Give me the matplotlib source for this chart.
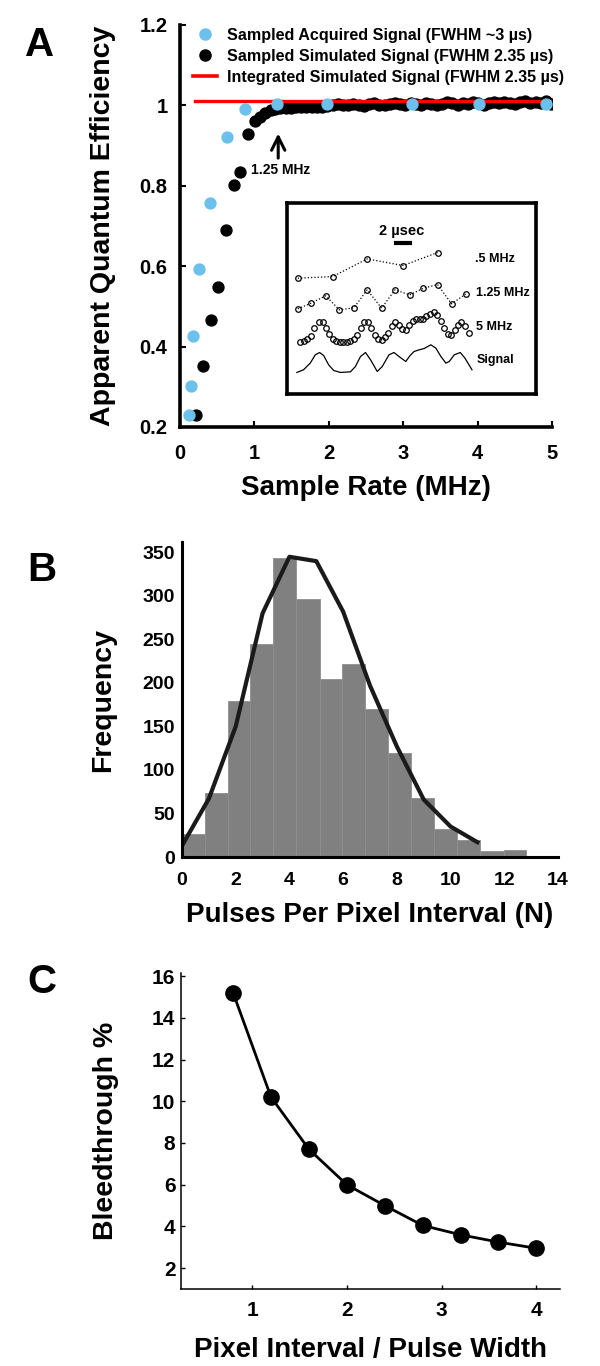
import matplotlib
matplotlib.use("Agg")
import matplotlib.pyplot as plt
from matplotlib.lines import Line2D

plt.rcParams['font.family'] = ['Liberation Sans', 'DejaVu Sans']
plt.rcParams['font.weight'] = 'bold'
plt.rcParams['axes.labelweight'] = 'bold'

# ---- panel A data ----
acq_x = [0.12, 0.15, 0.17, 0.26, 0.40, 0.63, 0.87, 1.30, 1.98, 3.12, 4.02, 4.92]
acq_y = [0.229, 0.301, 0.426, 0.592, 0.756, 0.922, 0.990, 1.003, 1.003, 1.003, 1.003, 1.003]

sim_x = [0.21, 0.31, 0.41, 0.51, 0.62, 0.72, 0.80, 0.91, 1.01, 1.07, 1.14, 1.22,
         1.28, 1.35, 1.42, 1.49, 1.56, 1.63, 1.70, 1.77, 1.84, 1.91, 1.98,
         2.05, 2.12, 2.19, 2.26, 2.33, 2.40, 2.47, 2.54, 2.61, 2.68, 2.75,
         2.82, 2.89, 2.96, 3.03, 3.10, 3.17, 3.24, 3.31, 3.38, 3.45, 3.52,
         3.59, 3.66, 3.73, 3.80, 3.87, 3.94, 4.01, 4.08, 4.15, 4.22, 4.29,
         4.36, 4.43, 4.50, 4.57, 4.64, 4.71, 4.78, 4.85, 4.92, 4.98]
sim_y = [0.231, 0.351, 0.467, 0.549, 0.691, 0.803, 0.835, 0.930, 0.962, 0.970, 0.980, 0.988,
         0.992, 0.993, 0.994, 0.994, 0.995, 0.995, 0.996, 0.996, 0.997, 0.997, 0.998,
         1.001, 1.003, 1.002, 1.000, 1.004, 1.002, 0.999, 1.003, 1.005, 1.002, 1.000,
         1.004, 1.006, 1.003, 1.001, 1.005, 1.004, 1.002, 1.006, 1.003, 1.000, 1.004,
         1.008, 1.005, 1.002, 1.007, 1.004, 1.008, 1.005, 1.002, 1.007, 1.009, 1.005,
         1.008, 1.006, 1.003, 1.008, 1.010, 1.006, 1.009, 1.007, 1.011, 1.004]

integ_x = [0.2, 5.0]
integ_y = [1.01, 1.01]

# inset: schematic traces (time in us, arbitrary vertical units)
sig_t = [0.00, 0.95, 1.90, 2.62, 3.24, 3.81, 4.52, 5.24, 6.19, 7.62, 8.33, 9.05, 9.76,
         10.48, 11.43, 12.14, 13.10, 13.81, 14.52, 15.48, 16.10, 16.67, 17.38, 18.10,
         19.05, 19.76, 20.48, 21.19, 21.67, 22.38, 23.24, 23.90, 24.90]
sig_v = [2.48, 2.86, 3.81, 5.00, 5.33, 4.90, 3.57, 2.76, 2.48, 2.57, 3.33, 4.76, 5.33,
         4.29, 2.62, 3.33, 5.00, 5.33, 4.76, 4.05, 4.90, 5.48, 5.71, 5.90,
         6.43, 5.95, 4.76, 3.81, 4.05, 5.00, 5.33, 4.52, 2.86]

s5_t = [0.48, 0.95, 1.43, 2.00, 2.48, 3.10, 3.67, 4.14, 4.62, 5.10, 5.62, 6.10, 6.62,
        7.10, 7.62, 8.10, 8.57, 9.05, 9.57, 10.05, 10.52, 11.10, 11.52, 12.05, 12.52,
        13.00, 13.48, 14.00, 14.48, 15.00, 15.48, 16.00, 16.48, 16.95, 17.48, 17.95,
        18.43, 18.95, 19.43, 19.90, 20.48, 20.95, 21.43, 21.90, 22.43, 22.90, 23.38,
        23.90, 24.48]
s5_v = [6.90, 7.00, 7.29, 7.76, 8.90, 9.67, 9.67, 8.90, 7.95, 7.29, 7.00, 6.90, 6.90,
        6.90, 7.00, 7.33, 7.86, 8.90, 9.67, 9.67, 8.90, 7.90, 7.29, 7.14, 7.52,
        8.19, 9.05, 9.67, 9.29, 8.67, 8.57, 9.29, 9.90, 10.10, 10.14, 10.10,
        10.48, 10.86, 11.05, 10.71, 9.86, 8.81, 7.95, 7.86, 8.57, 9.29, 9.76,
        9.05, 8.10]

s125_t = [0.14, 2.00, 4.10, 6.05, 8.10, 10.00, 12.05, 13.95, 16.05, 18.00, 20.00, 22.00, 24.00]
s125_v = [11.57, 12.38, 13.43, 11.43, 11.71, 14.29, 11.67, 14.29, 13.57, 14.52, 15.05, 12.29, 13.67]

s05_t = [0.14, 5.10, 10.00, 15.10, 20.00]
s05_v = [15.95, 16.19, 18.71, 17.76, 19.62]

# ---- panel B data ----
bin_edges = [0, 0.84, 1.70, 2.55, 3.40, 4.26, 5.13, 5.97, 6.82, 7.68, 8.54,
             9.39, 10.25, 11.11, 11.98, 12.81, 14.0]
counts = [27, 73, 179, 245, 344, 297, 205, 222, 170, 119, 68, 32, 20, 7, 8.5, 1.5]
fit_x = [0, 1, 2, 3, 4, 5, 6, 7, 8, 9, 10, 11]
fit_y = [13, 67, 150, 280, 345, 340, 282, 197, 127, 66, 35, 17]

# ---- panel C data ----
ratio = [0.8, 1.2, 1.6, 2.0, 2.4, 2.8, 3.2, 3.6, 4.0]
bleed = [15.2, 10.2, 7.7, 6.0, 5.0, 4.05, 3.6, 3.25, 2.95]

W, H = 600, 1366
fig = plt.figure(figsize=(6, 13.66), dpi=100)


def box(l, r, t, b):
    return [l / W, 1 - b / H, (r - l) / W, (b - t) / H]


blue = '#6cc0ec'

# ---------------- A ----------------
ax = fig.add_axes(box(180, 552, 25, 427))
ax.scatter(sim_x, sim_y, s=62, color='black', zorder=2)
ax.plot(integ_x, integ_y, color='red', lw=2.4, zorder=3)
ax.scatter(acq_x, acq_y, s=62, color=blue, zorder=4)
ax.set_xlim(0, 5)
ax.set_ylim(0.2, 1.2)
ax.set_xticks([0, 1, 2, 3, 4, 5])
ax.set_yticks([0.2, 0.4, 0.6, 0.8, 1.0, 1.2])
ax.set_yticklabels(['0.2', '0.4', '0.6', '0.8', '1', '1.2'])
for s in ['top', 'right']:
    ax.spines[s].set_visible(False)
for s in ['left', 'bottom']:
    ax.spines[s].set_linewidth(2.6)
ax.tick_params(direction='in', length=4, width=1.5, labelsize=14.5)
ax.tick_params(axis='x', pad=12)
ax.tick_params(axis='y', pad=9)
ax.set_xlabel('Sample Rate (MHz)', fontsize=20, labelpad=9)
ax.set_ylabel('Apparent Quantum Efficiency', fontsize=20.5, labelpad=17)
ax.annotate('', xy=(1.32, 0.937), xytext=(1.32, 0.862),
            arrowprops=dict(arrowstyle='->', lw=2.2, color='black', mutation_scale=24))
ax.text(0.95, 0.839, '1.25 MHz', fontsize=10, va='center', ha='left')

handles = [Line2D([], [], marker='o', ls='none', color=blue, ms=8),
           Line2D([], [], marker='o', ls='none', color='black', ms=8),
           Line2D([], [], color='red', lw=2.6)]
labels = ['Sampled Acquired Signal (FWHM ~3 µs)',
          'Sampled Simulated Signal (FWHM 2.35 µs)',
          'Integrated Simulated Signal (FWHM 2.35 µs)']
fig.legend(handles, labels, loc='upper left', bbox_to_anchor=(193 / W, 1 - 28 / H),
           frameon=False, fontsize=11.6, handlelength=1.5, handletextpad=0.6,
           labelspacing=0.36, borderpad=0, borderaxespad=0)

# inset
axi = fig.add_axes(box(287, 536, 203, 394))
axi.plot(sig_t, sig_v, color='black', lw=0.9)
axi.plot(s5_t, s5_v, ls='none', marker='o', mfc='none', mec='black', ms=4, mew=0.9)
axi.plot(s125_t, s125_v, ls=':', color='black', lw=0.9, marker='o', mfc='none', mec='black', ms=4, mew=0.9)
axi.plot(s05_t, s05_v, ls=':', color='black', lw=0.9, marker='o', mfc='none', mec='black', ms=4, mew=0.9)
axi.plot([14.05, 16.05], [21.05, 21.05], color='black', lw=3)
axi.text(14.9, 22.7, '2 µsec', fontsize=10.5, ha='center', va='center')
axi.text(25.3, 18.7, '.5 MHz', fontsize=9, va='center')
axi.text(25.5, 13.8, '1.25 MHz', fontsize=9, va='center')
axi.text(25.5, 8.95, '5 MHz', fontsize=9, va='center')
axi.text(25.5, 4.2, 'Signal', fontsize=9, va='center')
axi.set_xlim(-1.4, 34.0)
axi.set_ylim(-0.6, 26.7)
axi.set_xticks([])
axi.set_yticks([])
for s in axi.spines.values():
    s.set_linewidth(2.6)

# ---------------- B ----------------
bx = fig.add_axes(box(182, 558, 542, 857))
lefts = bin_edges[:-1]
widths = [bin_edges[i + 1] - bin_edges[i] for i in range(len(counts))]
bx.bar(lefts, counts, width=widths, align='edge', color='#808080', edgecolor='#8e8e8e', lw=0.6)
bx.plot(fit_x, fit_y, color='#1a1a1a', lw=3)
bx.set_xlim(0, 14)
bx.set_ylim(0, 362)
bx.set_xticks([0, 2, 4, 6, 8, 10, 12, 14])
bx.set_yticks([0, 50, 100, 150, 200, 250, 300, 350])
for s in ['top', 'right']:
    bx.spines[s].set_visible(False)
for s in ['left', 'bottom']:
    bx.spines[s].set_linewidth(2.2)
bx.tick_params(direction='in', length=0, labelsize=14)
bx.tick_params(axis='x', pad=11)
bx.tick_params(axis='y', pad=5)
bx.set_xlabel('Pulses Per Pixel Interval (N)', fontsize=20, labelpad=9)
bx.set_ylabel('Frequency', fontsize=20.5, labelpad=19)

# ---------------- C ----------------
cx = fig.add_axes(box(181, 560, 973, 1289))
cx.plot(ratio, bleed, color='black', lw=2, marker='o', ms=11)
cx.set_xlim(0.25, 4.25)
cx.set_ylim(1, 16.15)
cx.set_xticks([1, 2, 3, 4])
cx.set_yticks([2, 4, 6, 8, 10, 12, 14, 16])
for s in ['top', 'right']:
    cx.spines[s].set_visible(False)
for s in ['left', 'bottom']:
    cx.spines[s].set_linewidth(1.1)
cx.tick_params(direction='in', length=3, width=1, labelsize=15)
cx.tick_params(axis='x', pad=9)
cx.tick_params(axis='y', pad=4)
cx.set_xlabel('Pixel Interval / Pulse Width', fontsize=20, labelpad=12)
cx.set_ylabel('Bleedthrough %', fontsize=20.5, labelpad=24)

# panel letters
fig.text(25 / W, 1 - 45 / H, 'A', fontsize=29, va='center')
fig.text(27 / W, 1 - 570 / H, 'B', fontsize=29, va='center')
fig.text(27 / W, 1 - 982 / H, 'C', fontsize=29, va='center')

fig.savefig('out.png', dpi=100)
